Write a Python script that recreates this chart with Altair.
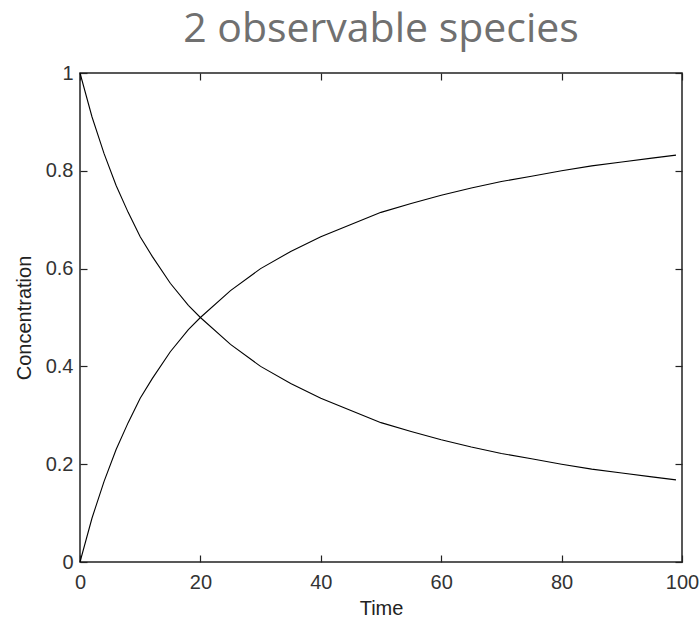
import altair as alt
import pandas as pd

# Values
time = [0, 2, 4, 6, 8, 10, 12, 15, 18, 20, 25, 30, 35, 40, 45, 50, 55, 60,
        65, 70, 75, 80, 85, 90, 95, 99]
species_a = [1.0, 0.91, 0.835, 0.77, 0.715, 0.665, 0.625, 0.57, 0.525, 0.50,
             0.445, 0.40, 0.365, 0.335, 0.31, 0.285, 0.267, 0.25, 0.235,
             0.222, 0.211, 0.20, 0.19, 0.182, 0.174, 0.168]
species_b = [0.0, 0.09, 0.165, 0.23, 0.285, 0.335, 0.375, 0.43, 0.475, 0.50,
             0.555, 0.60, 0.635, 0.665, 0.69, 0.715, 0.733, 0.75, 0.765,
             0.778, 0.789, 0.80, 0.81, 0.818, 0.826, 0.832]
x_ticks = [0, 20, 40, 60, 80, 100]
y_ticks = [0, 0.2, 0.4, 0.6, 0.8, 1]

rows = []
for t, a, b in zip(time, species_a, species_b):
    rows.append({"Time": t, "Concentration": a, "species": "A"})
    rows.append({"Time": t, "Concentration": b, "species": "B"})
df = pd.DataFrame(rows)

W, H = 602, 489
FONT = "Liberation Sans"
TICKC = "#222222"

xs = alt.Scale(domain=[0, 100], nice=False, zero=False)
ys = alt.Scale(domain=[0, 1], nice=False, zero=False)

base = alt.Chart(df)

# Layer with labelled axes (no ticks)
main = base.mark_line(color="black", strokeWidth=1.1).encode(
    x=alt.X("Time:Q", scale=xs,
            axis=alt.Axis(orient="bottom", values=x_ticks, tickSize=0,
                          domain=False, grid=False, labelFontSize=20,
                          labelFont=FONT, labelColor="#333333",
                          labelPadding=10, labelFlush=False, labelOverlap=False,
                          title="Time", titleFont=FONT, titleFontSize=20,
                          titleFontWeight="normal", titleColor="#222222",
                          titlePadding=6)),
    y=alt.Y("Concentration:Q", scale=ys,
            axis=alt.Axis(orient="left", values=y_ticks, tickSize=0,
                          domain=False, grid=False, format="~g",
                          labelFontSize=20, labelFont=FONT,
                          labelColor="#333333", labelPadding=7,
                          labelFlush=False, labelOverlap=False,
                          title="Concentration", titleFont=FONT,
                          titleFontSize=20, titleFontWeight="normal",
                          titleColor="#222222", titlePadding=11)),
    detail="species:N",
)

# Inward ticks on bottom and left edges
ticks_bl = base.mark_line(strokeOpacity=0).encode(
    x=alt.X("Time:Q", scale=xs,
            axis=alt.Axis(orient="top", offset=-H, values=x_ticks, labels=False,
                          domain=False, grid=False, tickSize=7, tickWidth=1.2,
                          tickColor=TICKC, title=None)),
    y=alt.Y("Concentration:Q", scale=ys,
            axis=alt.Axis(orient="right", offset=-W, values=y_ticks,
                          labels=False, domain=False, grid=False, tickSize=7,
                          tickWidth=1.2, tickColor=TICKC, title=None)),
    detail="species:N",
)

# Inward ticks on top and right edges
ticks_tr = base.mark_line(strokeOpacity=0).encode(
    x=alt.X("Time:Q", scale=xs,
            axis=alt.Axis(orient="bottom", offset=-H, values=x_ticks,
                          labels=False, domain=False, grid=False, tickSize=7,
                          tickWidth=1.2, tickColor=TICKC, title=None)),
    y=alt.Y("Concentration:Q", scale=ys,
            axis=alt.Axis(orient="left", offset=-W, values=y_ticks,
                          labels=False, domain=False, grid=False, tickSize=7,
                          tickWidth=1.2, tickColor=TICKC, title=None)),
    detail="species:N",
)

chart = alt.layer(main, ticks_bl, ticks_tr).resolve_scale(
    x="independent", y="independent"
).resolve_axis(
    x="independent", y="independent"
).properties(
    width=W, height=H,
    title=alt.TitleParams("2 observable species", font="Open Sans",
                          fontSize=41, fontWeight="normal", color="#707070",
                          anchor="middle", offset=12),
    autosize=alt.AutoSizeParams(type="none"),
    padding={"left": 80, "top": 73, "right": 18, "bottom": 57},
    background="white",
).configure_view(
    stroke="#222222", strokeWidth=1.5
)

chart.save("out.html", embed_options={"renderer": "svg", "actions": False})
